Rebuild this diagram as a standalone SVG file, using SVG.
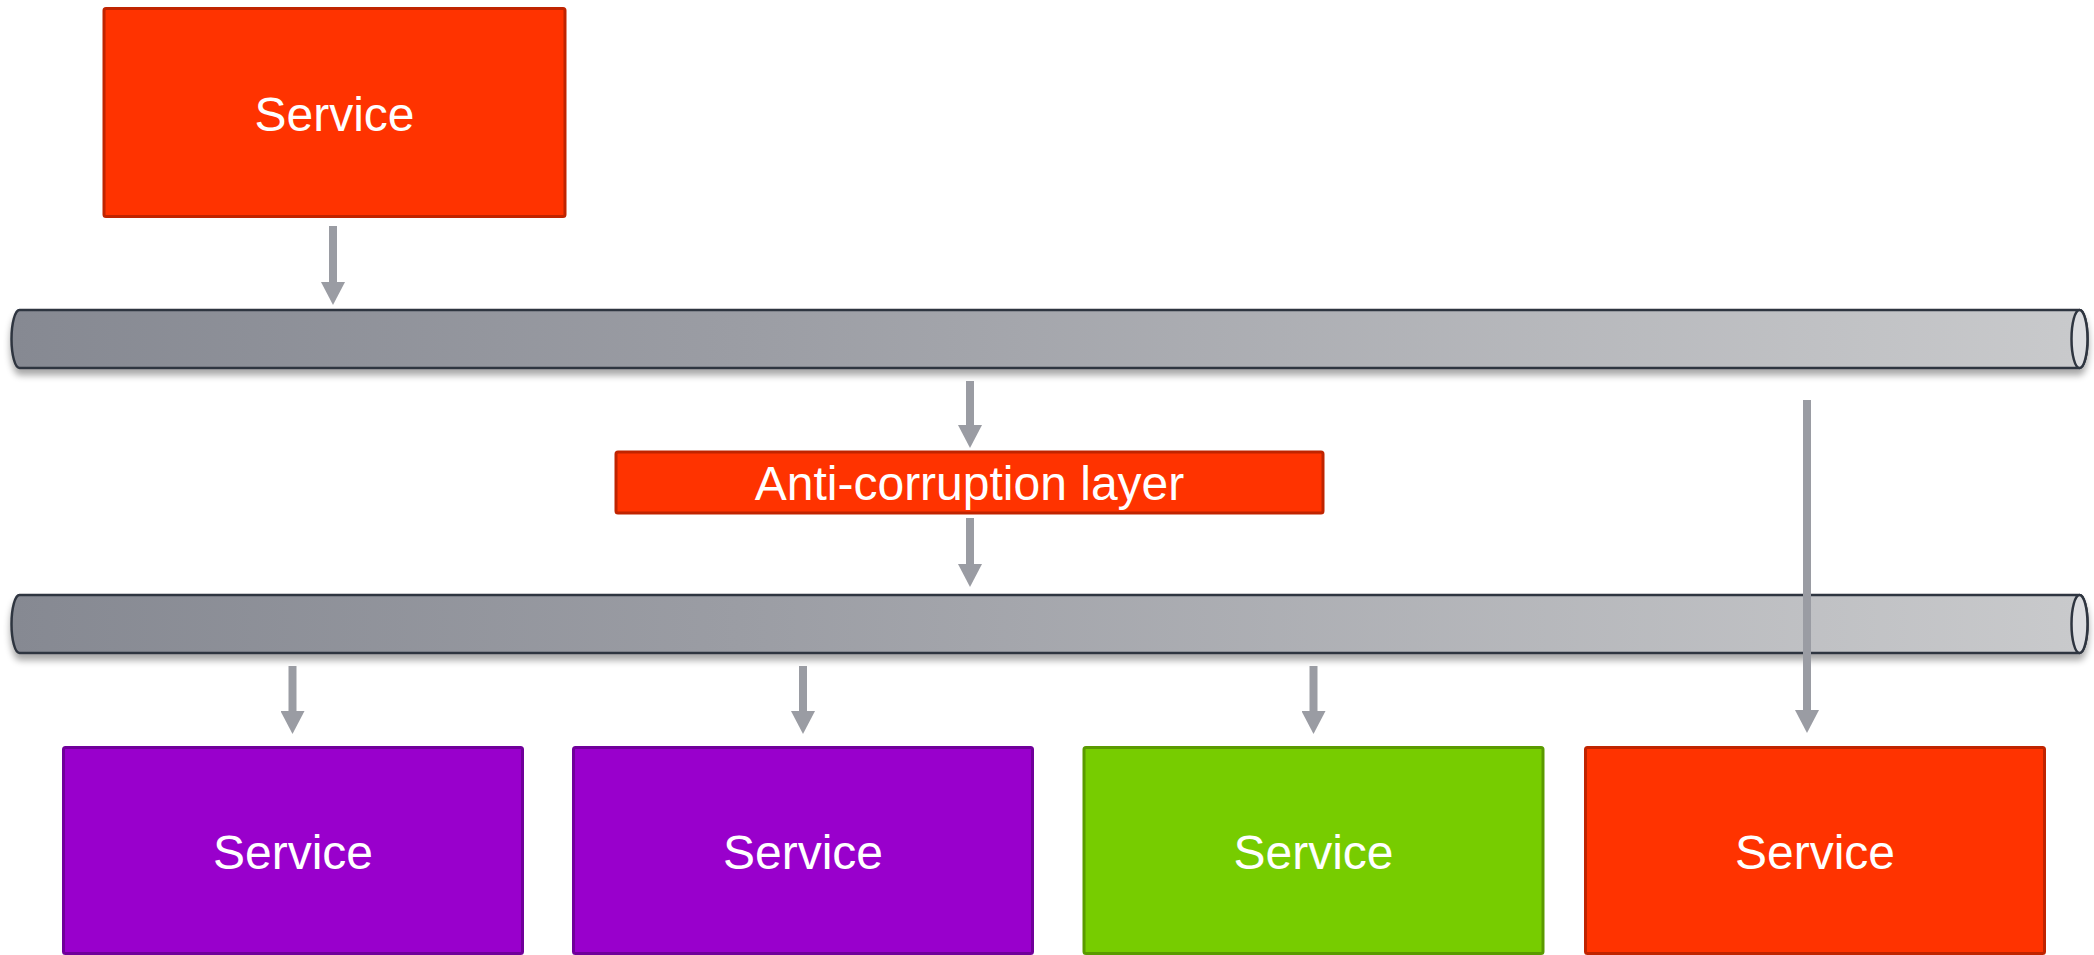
<svg xmlns="http://www.w3.org/2000/svg" width="2094" height="955" viewBox="0 0 2094 955">
  <defs>
    <linearGradient id="tubeFill" x1="0" y1="0" x2="1" y2="0">
      <stop offset="0" stop-color="#868992"/>
      <stop offset="0.35" stop-color="#9b9da4"/>
      <stop offset="1" stop-color="#c9cacc"/>
    </linearGradient>
    <filter id="tubeShadow" x="-2%" y="-40%" width="104%" height="200%">
      <feGaussianBlur in="SourceAlpha" stdDeviation="3.5"/>
      <feOffset dx="0" dy="6" result="blur"/>
      <feComponentTransfer><feFuncA type="linear" slope="0.35"/></feComponentTransfer>
      <feMerge><feMergeNode/><feMergeNode in="SourceGraphic"/></feMerge>
    </filter>
    <marker id="head" viewBox="0 0 23 24" markerWidth="23" markerHeight="24" markerUnits="userSpaceOnUse" refX="0" refY="12" orient="auto">
      <path d="M0,0 L23,12 L0,24 Z" fill="#9a9ca3"/>
    </marker>
  </defs>
  <style>
    .box { stroke-width: 3; }
    .red { fill: #ff3300; stroke: #c02400; }
    .purple { fill: #9900cc; stroke: #70009a; }
    .green { fill: #77cc00; stroke: #5a9a00; }
    .label { font-family: "Liberation Sans", Arial, sans-serif; font-size: 48px; fill: #ffffff; text-anchor: middle; }
    .tube { fill: url(#tubeFill); stroke: #2f3540; stroke-width: 2.5; }
    .cap { fill: #dcdde0; stroke: #2f3540; stroke-width: 2.5; }
    .arrow { stroke: #9a9ca3; stroke-width: 8; fill: none; marker-end: url(#head); }
  </style>
  <rect width="2094" height="955" fill="#ffffff"/>

  <g id="service-top">
    <rect class="box red" x="104" y="8.5" width="461" height="208" rx="2"/>
    <text class="label" x="334.5" y="131">Service</text>
  </g>

  <g id="bus-upper" filter="url(#tubeShadow)">
    <path class="tube" d="M19.5,310 H2079.5 A8,29 0 0 1 2079.5,368 H19.5 A8,29 0 0 1 19.5,310 Z"/>
    <ellipse class="cap" cx="2079.5" cy="339" rx="8" ry="29"/>
  </g>

  <g id="anti-corruption-layer">
    <rect class="box red" x="616" y="452" width="707" height="61" rx="2"/>
    <text class="label" x="969.5" y="500">Anti-corruption layer</text>
  </g>

  <g id="bus-lower" filter="url(#tubeShadow)">
    <path class="tube" d="M19.5,595 H2079.5 A8,29 0 0 1 2079.5,653 H19.5 A8,29 0 0 1 19.5,595 Z"/>
    <ellipse class="cap" cx="2079.5" cy="624" rx="8" ry="29"/>
  </g>

  <g id="service-1">
    <rect class="box purple" x="63.5" y="747.5" width="459" height="206" rx="2"/>
    <text class="label" x="293" y="869">Service</text>
  </g>
  <g id="service-2">
    <rect class="box purple" x="573.5" y="747.5" width="459" height="206" rx="2"/>
    <text class="label" x="803" y="869">Service</text>
  </g>
  <g id="service-3">
    <rect class="box green" x="1084" y="747.5" width="459" height="206" rx="2"/>
    <text class="label" x="1313.5" y="869">Service</text>
  </g>
  <g id="service-4">
    <rect class="box red" x="1585.5" y="747.5" width="459" height="206" rx="2"/>
    <text class="label" x="1815" y="869">Service</text>
  </g>

  <g id="connectors">
    <line class="arrow" x1="333" y1="226" x2="333" y2="282"/>
    <line class="arrow" x1="970" y1="381" x2="970" y2="425"/>
    <line class="arrow" x1="970" y1="518" x2="970" y2="564"/>
    <line class="arrow" x1="292.5" y1="666" x2="292.5" y2="711"/>
    <line class="arrow" x1="803" y1="666" x2="803" y2="711"/>
    <line class="arrow" x1="1313.5" y1="666" x2="1313.5" y2="711"/>
    <line class="arrow" x1="1807" y1="400" x2="1807" y2="710"/>
  </g>
</svg>
